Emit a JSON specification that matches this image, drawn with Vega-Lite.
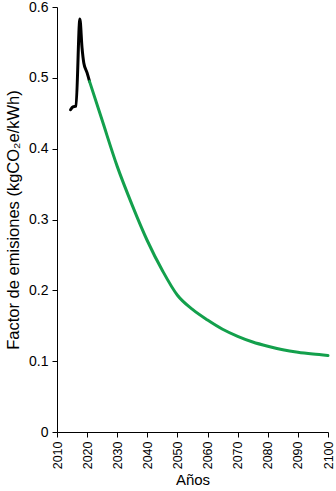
{
  "$schema": "https://vega.github.io/schema/vega-lite/v6.json",
  "width": 271,
  "height": 425,
  "autosize": {"type": "none"},
  "padding": {"left": 57, "top": 7, "right": 8, "bottom": 59},
  "background": "white",
  "config": {
    "view": {"stroke": null},
    "font": "Liberation Sans",
    "axis": {"grid": false, "domainColor": "#000", "tickColor": "#000", "labelColor": "#000", "titleColor": "#000", "labelFont": "Liberation Sans", "titleFont": "Liberation Sans", "titleFontWeight": "normal", "domainWidth": 1, "tickWidth": 1, "tickSize": 5}
  },
  "data": {
    "values": [
      {"serie": "hist", "anio": 2014.5, "factor": 0.455},
      {"serie": "hist", "anio": 2015.3, "factor": 0.459},
      {"serie": "hist", "anio": 2016.3, "factor": 0.46},
      {"serie": "hist", "anio": 2017.6, "factor": 0.583},
      {"serie": "hist", "anio": 2018.3, "factor": 0.543},
      {"serie": "hist", "anio": 2018.9, "factor": 0.521},
      {"serie": "hist", "anio": 2020.0, "factor": 0.507},
      {"serie": "hist", "anio": 2020.8, "factor": 0.495},
      {"serie": "proy", "anio": 2020.8, "factor": 0.495},
      {"serie": "proy", "anio": 2025, "factor": 0.44},
      {"serie": "proy", "anio": 2030, "factor": 0.375},
      {"serie": "proy", "anio": 2035, "factor": 0.32},
      {"serie": "proy", "anio": 2040, "factor": 0.27},
      {"serie": "proy", "anio": 2045, "factor": 0.228},
      {"serie": "proy", "anio": 2050, "factor": 0.193},
      {"serie": "proy", "anio": 2055, "factor": 0.173},
      {"serie": "proy", "anio": 2060, "factor": 0.158},
      {"serie": "proy", "anio": 2065, "factor": 0.145},
      {"serie": "proy", "anio": 2070, "factor": 0.135},
      {"serie": "proy", "anio": 2075, "factor": 0.127},
      {"serie": "proy", "anio": 2080, "factor": 0.121},
      {"serie": "proy", "anio": 2085, "factor": 0.116},
      {"serie": "proy", "anio": 2090, "factor": 0.1125},
      {"serie": "proy", "anio": 2095, "factor": 0.11},
      {"serie": "proy", "anio": 2100, "factor": 0.108}
    ]
  },
  "mark": {"type": "line", "strokeWidth": 3, "interpolate": "monotone", "strokeCap": "round"},
  "encoding": {
    "x": {
      "field": "anio", "type": "quantitative",
      "scale": {"domain": [2010, 2100], "nice": false, "zero": false},
      "axis": {"values": [2010, 2020, 2030, 2040, 2050, 2060, 2070, 2080, 2090, 2100], "format": "d", "labelAngle": -90, "labelFontSize": 12.5, "labelAlign": "right", "labelBaseline": "middle", "labelPadding": 4, "title": "Años", "titleFontSize": 15, "titlePadding": 4}
    },
    "y": {
      "field": "factor", "type": "quantitative",
      "scale": {"domain": [0, 0.6], "nice": false},
      "axis": {"values": [0, 0.1, 0.2, 0.3, 0.4, 0.5, 0.6], "labelExpr": "datum.value == 0 ? '0' : format(datum.value, '.1f')", "labelFontSize": 14, "labelPadding": 4, "title": "Factor de emisiones (kgCO₂e/kWh)", "titleFontSize": 16.5, "titlePadding": 7}
    },
    "color": {
      "field": "serie", "type": "nominal",
      "scale": {"domain": ["hist", "proy"], "range": ["#000000", "#13a04c"]},
      "legend": null
    }
  }
}
